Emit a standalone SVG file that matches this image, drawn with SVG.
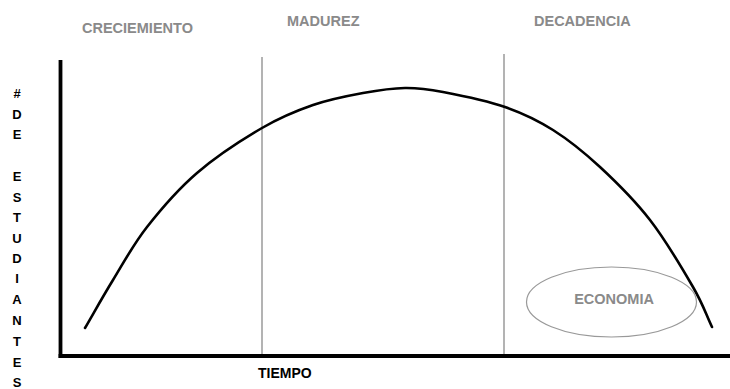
<svg xmlns="http://www.w3.org/2000/svg" width="730" height="389" viewBox="0 0 730 389">
<style>
.phase{font-family:"Liberation Sans",Arial,sans-serif;font-weight:bold;font-size:14.5px;fill:#8a8a8a}
.axislbl{font-family:"Liberation Sans",Arial,sans-serif;font-weight:bold;font-size:14px;fill:#000}
.vlbl{font-family:"Liberation Sans",Arial,sans-serif;font-weight:bold;font-size:13px;fill:#000;text-anchor:middle}
.divider{stroke:#9a9a9a;stroke-width:1.5;fill:none}
.axis{stroke:#000;stroke-width:3.8;fill:none;stroke-linecap:square}
</style>
<rect width="730" height="389" fill="#fff"/>
<g id="labels">
<text class="phase" x="82" y="33">CRECIEMIENTO</text>
<text class="phase" x="287" y="26">MADUREZ</text>
<text class="phase" x="534" y="26">DECADENCIA</text>
<text class="axislbl" x="258" y="378">TIEMPO</text>
<text class="vlbl" x="17" y="98">#</text>
<text class="vlbl" x="17" y="118.6">D</text>
<text class="vlbl" x="17" y="139.2">E</text>
<text class="vlbl" x="17" y="181">E</text>
<text class="vlbl" x="17" y="201.5">S</text>
<text class="vlbl" x="17" y="222">T</text>
<text class="vlbl" x="17" y="243">U</text>
<text class="vlbl" x="17" y="263">D</text>
<text class="vlbl" x="17" y="283.4">I</text>
<text class="vlbl" x="17" y="304">A</text>
<text class="vlbl" x="17" y="325">N</text>
<text class="vlbl" x="17" y="346">T</text>
<text class="vlbl" x="17" y="367">E</text>
<text class="vlbl" x="17" y="387">S</text>
</g>
<g id="dividers">
<line class="divider" x1="262" y1="57" x2="262" y2="356"/>
<line class="divider" x1="504" y1="54" x2="504" y2="356"/>
</g>
<g id="axes">
<line class="axis" x1="60.5" y1="62" x2="60.5" y2="356"/>
<line class="axis" x1="60.5" y1="356" x2="732" y2="356"/>
</g>
<g id="connectors">
<path id="curve" fill="none" stroke="#000" stroke-width="2.6" stroke-linecap="round" d="M85,328 C94.3,312 102.7,296.8 113,280 C123.3,263.2 133,244.8 147,227 C161,209.2 177.8,189.5 197,173 C216.2,156.5 242.7,139.3 262,128 C281.3,116.7 296.2,110.8 313,105 C329.8,99.2 347.7,95.8 363,93 C378.3,90.2 391.7,88.2 405,88 C418.3,87.8 426.3,88.8 443,92 C459.7,95.2 486.7,100.7 505,107 C523.3,113.3 537.2,120 553,130 C568.8,140 583.8,152 600,167 C616.2,182 634.5,200 650,220 C665.5,240 682.7,269.2 693,287 C703.3,304.8 705.7,313.7 712,327"/>
</g>
<g id="economia">
<ellipse cx="611.5" cy="302" rx="85" ry="35" fill="none" stroke="#999" stroke-width="1.2"/>
<text x="614" y="304" text-anchor="middle" style="font-family:'Liberation Sans',Arial,sans-serif;font-weight:bold;font-size:14.5px;fill:#8a8a8a">ECONOMIA</text>
</g>
</svg>
